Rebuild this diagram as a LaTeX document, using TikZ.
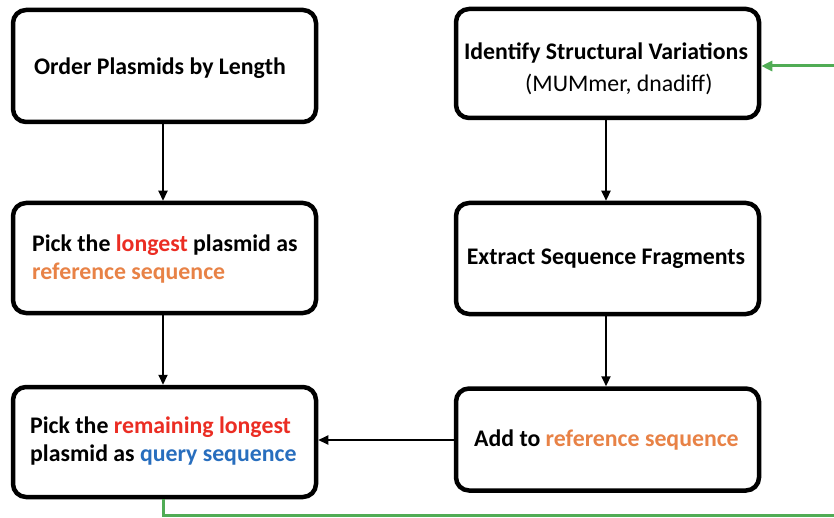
\documentclass[tikz,border=0pt]{standalone}
\usepackage{fontspec}
\setmainfont{Carlito}
\usetikzlibrary{arrows.meta}
\definecolor{hired}{RGB}{235,45,35}
\definecolor{refor}{RGB}{232,130,70}
\definecolor{qblue}{RGB}{40,110,190}
\definecolor{loopgreen}{RGB}{80,172,85}
\tikzset{
  stepbox/.style={draw=black, line width=4.5pt, rounded corners=13pt, fill=white,
    minimum width=303pt, inner sep=0pt},
  lbl/.style={font=\fontsize{23.8}{28}\selectfont\bfseries, inner sep=0pt},
  sublbl/.style={font=\fontsize{23.8}{28}\selectfont, inner sep=0pt},
  flow/.style={draw=black, line width=2.2pt, -{Triangle[length=10pt,width=9pt]}},
  loop/.style={draw=loopgreen, line width=3pt, -{Triangle[length=11pt,width=10pt]}},
}
\begin{document}
\begin{tikzpicture}[x=1pt,y=-1pt]
\useasboundingbox (0,0) rectangle (834,518);
% left column
\node[stepbox, minimum height=112pt] (order) at (164.5,66) {};
\node[stepbox, minimum height=110pt] (pickref) at (164.5,258) {};
\node[stepbox, minimum height=110pt] (pickq) at (164.5,442) {};
% right column
\node[stepbox, minimum height=109pt] (ident) at (607.5,63.5) {};
\node[stepbox, minimum height=111pt] (extract) at (607.5,258.5) {};
\node[stepbox, minimum height=102pt] (addref) at (607.5,439.5) {};
% labels
\node[lbl] at (160,68) {Order Plasmids by Length};
\node[lbl, anchor=west] at (32,245) {Pick the \textcolor{hired}{longest} plasmid as};
\node[lbl, anchor=west] at (32,273) {\textcolor{refor}{reference sequence}};
\node[lbl, anchor=west] at (30,427) {Pick the \textcolor{hired}{remaining longest}};
\node[lbl, anchor=west] at (30,455) {plasmid as \textcolor{qblue}{query sequence}};
\node[lbl] at (606,53) {Identify Structural Variations};
\node[sublbl, anchor=west] at (525,84) {(MUMmer, dnadiff)};
\node[lbl] at (606,259) {Extract Sequence Fragments};
\node[lbl, anchor=west] at (474,440) {Add to \textcolor{refor}{reference sequence}};
% connectors
\draw[flow] (order.south -| 163,0) -- (pickref.north -| 163,0);
\draw[flow] (pickref.south -| 163,0) -- (pickq.north -| 163,0);
\draw[flow] (ident.south -| 606,0) -- (extract.north -| 606,0);
\draw[flow] (extract.south -| 606,0) -- (addref.north -| 606,0);
\draw[flow] (addref.west |- 0,440) -- (pickq.east |- 0,440);
% feedback loop, its right-hand run lies just past the page edge
\coordinate (lb) at (163,515);
\coordinate (rb) at (838,515);
\coordinate (rt) at (838,66);
\draw[loop] (pickq.south -| lb) -- (lb) -- (rb) -- (rt) -- (ident.east |- rt);
\end{tikzpicture}
\end{document}
